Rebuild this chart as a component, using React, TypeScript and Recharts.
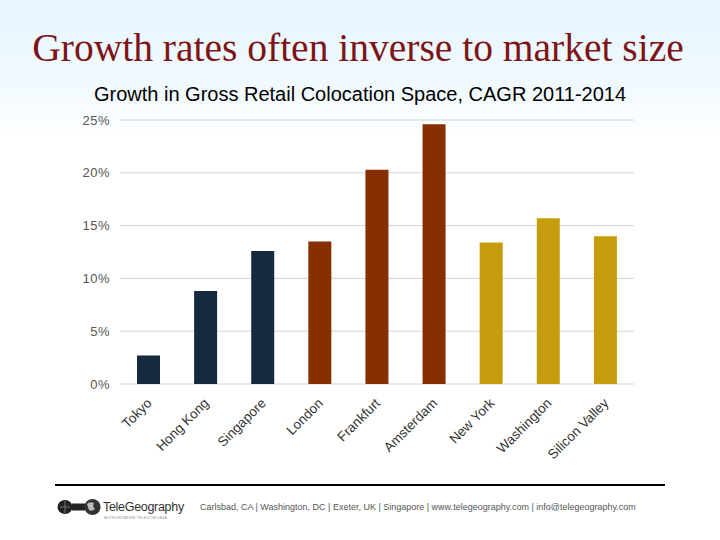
import React from "react";
import { BarChart, Bar, XAxis, YAxis, CartesianGrid, Cell } from "recharts";

const cities = ["Tokyo", "Hong Kong", "Singapore", "London", "Frankfurt", "Amsterdam", "New York", "Washington", "Silicon Valley"];
const cagr = [2.7, 8.8, 12.6, 13.5, 20.3, 24.6, 13.4, 15.7, 14.0];
const regions = ["Asia", "Asia", "Asia", "Europe", "Europe", "Europe", "US", "US", "US"];
const yTicks = [0, 5, 10, 15, 20, 25];

const regionColor: Record<string, string> = {
  Asia: "#15293f",
  Europe: "#862f00",
  US: "#c59c0b",
};

const data = cities.map((c, i) => ({ city: c, value: cagr[i], region: regions[i] }));

const XTick = (props: any) => {
  const { x, y, payload } = props;
  return (
    <g transform={`translate(${x + 4},${y + 12})`}>
      <text
        x={0}
        y={0}
        textAnchor="end"
        transform="rotate(-45)"
        fontFamily="'Liberation Sans', Arial, sans-serif"
        fontSize={13.5}
        fill="#333"
      >
        {payload.value}
      </text>
    </g>
  );
};

export default function App() {
  return (
    <div
      style={{
        position: "absolute",
        left: 0,
        top: 0,
        width: 720,
        height: 540,
        overflow: "hidden",
        background: "linear-gradient(to bottom, #e6f5fe 0px, #f2faff 90px, #ffffff 140px)",
        fontFamily: "'Liberation Sans', Arial, sans-serif",
      }}
    >
      <div
        style={{
          position: "absolute",
          left: 0,
          top: 22,
          width: 716,
          textAlign: "center",
          fontFamily: "'Liberation Serif', 'Times New Roman', serif",
          fontSize: 39.5,
          color: "#7d1416",
          lineHeight: "52px",
          whiteSpace: "nowrap",
        }}
      >
        Growth rates often inverse to market size
      </div>
      <div
        style={{
          position: "absolute",
          left: 0,
          top: 82,
          width: 720,
          textAlign: "center",
          fontSize: 20,
          color: "#000",
          lineHeight: "24px",
          whiteSpace: "nowrap",
        }}
      >
        Growth in Gross Retail Colocation Space, CAGR 2011-2014
      </div>
      <div style={{ position: "absolute", left: 0, top: 0 }}>
        <BarChart
          width={720}
          height={470}
          data={data}
          margin={{ top: 120, right: 86, left: 60, bottom: 6 }}
        >
          <CartesianGrid vertical={false} stroke="#d4d4d4" strokeWidth={1} />
          <XAxis
            dataKey="city"
            axisLine={false}
            tickLine={false}
            interval={0}
            height={80}
            tick={<XTick />}
          />
          <YAxis
            domain={[0, 25]}
            ticks={yTicks}
            axisLine={false}
            tickLine={false}
            tickSize={0}
            tickMargin={10}
            width={60}
            tickFormatter={(v: number) => `${v}%`}
            tick={{ fontSize: 13, fill: "#555", letterSpacing: 0.5, fontFamily: "'Liberation Sans', Arial, sans-serif" }}
          />
          <Bar dataKey="value" barSize={23} isAnimationActive={false}>
            {data.map((d, i) => (
              <Cell key={i} fill={regionColor[d.region]} />
            ))}
          </Bar>
        </BarChart>
      </div>
      <div style={{ position: "absolute", left: 55, top: 484, width: 610, height: 2, background: "#000" }} />
      <svg style={{ position: "absolute", left: 56, top: 497 }} width={46} height={22}>
        <ellipse cx={9} cy={10} rx={7.5} ry={7} fill="#222" />
        <line x1={4} y1={10} x2={14} y2={10} stroke="#888" strokeWidth={0.8} />
        <line x1={9} y1={4} x2={9} y2={16} stroke="#888" strokeWidth={0.8} />
        <rect x={16} y={6.5} width={13} height={7} fill="#222" />
        <circle cx={36.5} cy={10} r={8} fill="#333" />
        <path d="M31 7 Q34 4 38 6 Q36 9 39 12 Q36 15 33 13 Z" fill="#bbb" />
      </svg>
      <div
        style={{
          position: "absolute",
          left: 103,
          top: 499,
          fontSize: 12.5,
          color: "#333",
          lineHeight: "16px",
          whiteSpace: "nowrap",
          letterSpacing: -0.3,
        }}
      >
        TeleGeography
      </div>
      <div
        style={{
          position: "absolute",
          left: 104,
          top: 515,
          fontSize: 4,
          color: "#999",
          lineHeight: "5px",
          whiteSpace: "nowrap",
        }}
      >
        AUTHORITATIVE TELECOM DATA
      </div>
      <div
        style={{
          position: "absolute",
          left: 200,
          top: 501,
          fontSize: 9,
          color: "#555",
          lineHeight: "12px",
          whiteSpace: "nowrap",
        }}
      >
        Carlsbad, CA | Washington, DC | Exeter, UK | Singapore | www.telegeography.com | info@telegeography.com
      </div>
    </div>
  );
}
